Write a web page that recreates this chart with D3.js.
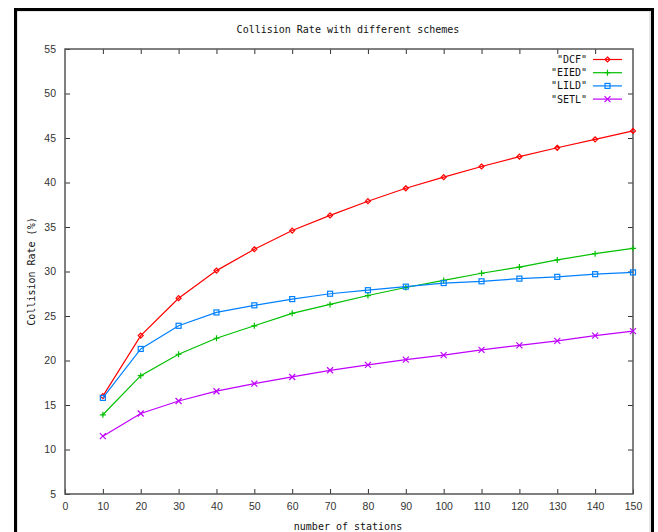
<!DOCTYPE html>
<html><head><meta charset="utf-8">
<script src="https://cdn.jsdelivr.net/npm/d3@7"></script>
<style>body{margin:0;background:#fff}svg{display:block}</style>
</head><body><svg id="c" width="658" height="532"></svg>
<script>
const stations = [10,20,30,40,50,60,70,80,90,100,110,120,130,140,150];
const dcf  = [16.0,22.8,27.0,30.1,32.5,34.6,36.3,37.9,39.35,40.6,41.8,42.9,43.9,44.85,45.8];
const eied = [13.9,18.3,20.7,22.5,23.9,25.3,26.3,27.3,28.2,29.0,29.8,30.5,31.3,32.0,32.6];
const lild = [15.8,21.3,23.9,25.4,26.2,26.9,27.5,27.9,28.3,28.7,28.9,29.2,29.4,29.7,29.9];
const setl = [11.5,14.05,15.45,16.55,17.4,18.15,18.9,19.5,20.1,20.6,21.2,21.7,22.2,22.8,23.3];
const seriesNames = ['"DCF"','"EIED"','"LILD"','"SETL"'];
const seriesColors = ["#ff0000","#00c000","#0080ff","#c000ff"];
const seriesMarkers = ["diamond","plus","square","cross"];
const xTicks = [0,10,20,30,40,50,60,70,80,90,100,110,120,130,140,150];
const yTicks = [5,10,15,20,25,30,35,40,45,50,55];
const titleText = "Collision Rate with different schemes";
const xLabel = "number of stations";
const yLabel = "Collision Rate (%)";

const svg = d3.select("#c");
const L=65, R=633, T=49, B=494;
const x = d3.scaleLinear().domain([0,150]).range([L,R]);
const y = d3.scaleLinear().domain([5,55]).range([B,T]);
const mono = "DejaVu Sans Mono, monospace";
const sans = "Liberation Sans, Arial, sans-serif";

// outer frame
svg.append("rect").attr("x",17).attr("y",11).attr("width",633).attr("height",600)
  .attr("fill","none").attr("stroke","#ccc").attr("stroke-width",1);
svg.append("rect").attr("x",15.5).attr("y",9.5).attr("width",637).attr("height",600)
  .attr("fill","none").attr("stroke","#000").attr("stroke-width",3);

// title
svg.append("text").attr("x",348).attr("y",33).attr("text-anchor","middle")
  .attr("font-family",mono).attr("font-size",10).attr("fill","#111").text(titleText);

// axes with inward ticks, mirrored
const g = svg.append("g");
g.append("g").attr("transform",`translate(0,${B})`)
  .call(d3.axisBottom(x).tickValues(xTicks).tickSizeInner(-5).tickSizeOuter(0).tickPadding(9))
  .call(a=>{a.select(".domain").remove();a.selectAll("line").attr("stroke","#333");
    a.selectAll("text").attr("font-family",sans).attr("font-size",10.5).attr("fill","#333");});
g.append("g").attr("transform",`translate(0,${T})`)
  .call(d3.axisTop(x).tickValues(xTicks.slice(1,-1)).tickSizeInner(-5).tickSizeOuter(0).tickFormat(""))
  .call(a=>{a.select(".domain").remove();a.selectAll("line").attr("stroke","#333");});
g.append("g").attr("transform",`translate(${L},0)`)
  .call(d3.axisLeft(y).tickValues(yTicks).tickSizeInner(-5).tickSizeOuter(0).tickPadding(9))
  .call(a=>{a.select(".domain").remove();a.selectAll("line").attr("stroke","#333");
    a.selectAll("text").attr("font-family",sans).attr("font-size",10.5).attr("fill","#333");});
g.append("g").attr("transform",`translate(${R},0)`)
  .call(d3.axisRight(y).tickValues(yTicks.slice(1,-1)).tickSizeInner(-5).tickSizeOuter(0).tickFormat(""))
  .call(a=>{a.select(".domain").remove();a.selectAll("line").attr("stroke","#333");});
svg.append("rect").attr("x",L).attr("y",T).attr("width",R-L).attr("height",B-T)
  .attr("fill","none").attr("stroke","#555").attr("stroke-width",1.5);

// axis labels
svg.append("text").attr("x",348).attr("y",530).attr("text-anchor","middle")
  .attr("font-family",mono).attr("font-size",10).attr("fill","#111").text(xLabel);
svg.append("text").attr("transform",`translate(35,${(T+B)/2}) rotate(-90)`).attr("text-anchor","middle")
  .attr("font-family",mono).attr("font-size",10).attr("fill","#111").text(yLabel);

function marker(sel, type, color){
  if(type==="diamond"){
    sel.append("path").attr("d","M0,-2.5L2.5,0L0,2.5L-2.5,0Z").attr("fill","none").attr("stroke",color).attr("stroke-width",1.2);
  } else if(type==="plus"){
    sel.append("path").attr("d","M-3,0H3M0,-3V3").attr("stroke",color).attr("stroke-width",1.2);
  } else if(type==="square"){
    sel.append("rect").attr("x",-2.5).attr("y",-2.5).attr("width",5).attr("height",5).attr("fill","none").attr("stroke",color).attr("stroke-width",1.2);
  } else {
    sel.append("path").attr("d","M-3,-3L3,3M-3,3L3,-3").attr("stroke",color).attr("stroke-width",1.2);
  }
}

const allSeries = [dcf,eied,lild,setl];
const line = d3.line().x((d,i)=>x(stations[i])).y(d=>y(d));
allSeries.forEach((vals,k)=>{
  const c = seriesColors[k];
  svg.append("path").datum(vals).attr("d",line).attr("fill","none").attr("stroke",c).attr("stroke-width",1.2);
  vals.forEach((v,i)=>{
    const m = svg.append("g").attr("transform",`translate(${x(stations[i])},${y(v)})`);
    marker(m, seriesMarkers[k], c);
  });
  // legend
  const ly = 59.5 + k*13.2;
  svg.append("text").attr("x",587).attr("y",ly+3.5).attr("text-anchor","end")
    .attr("font-family",mono).attr("font-size",10).attr("fill","#111").text(seriesNames[k]);
  svg.append("line").attr("x1",593).attr("x2",622).attr("y1",ly).attr("y2",ly).attr("stroke",c).attr("stroke-width",1.2);
  const lm = svg.append("g").attr("transform",`translate(607.5,${ly})`);
  marker(lm, seriesMarkers[k], c);
});
</script></body></html>
